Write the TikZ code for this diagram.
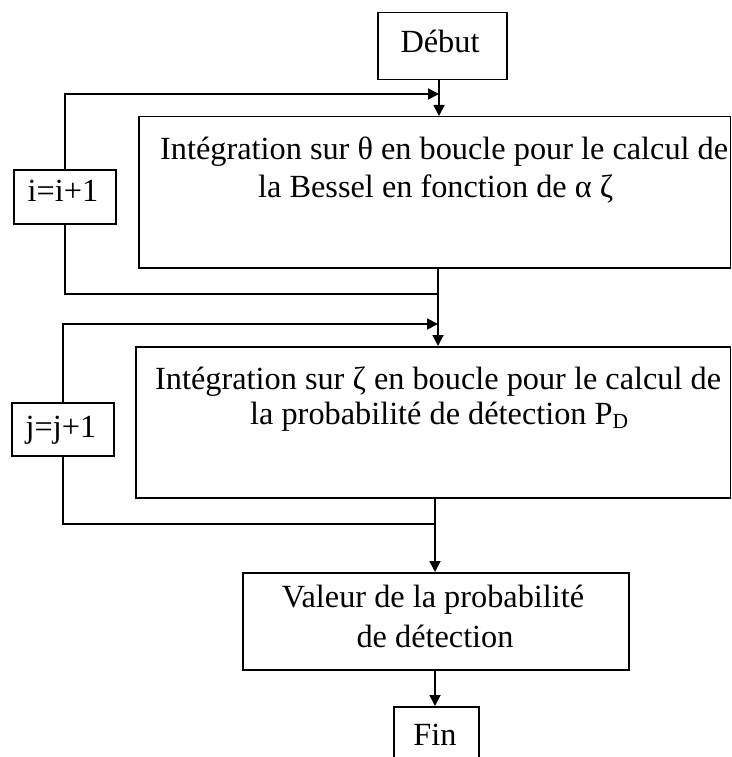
\documentclass[tikz,border=0pt]{standalone}
\usepackage{fontspec}
\setmainfont{Liberation Serif}
\usetikzlibrary{arrows.meta}
\begin{document}
\begin{tikzpicture}[x=1pt,y=-1pt,
  box/.style={draw, line width=1.5pt, inner sep=0pt, anchor=north west},
  txt/.style={inner sep=0pt, font=\fontsize{32.3}{38}\selectfont},
  wire/.style={line width=1.8pt},
  arr/.style={wire, -{Triangle[length=11pt,width=11pt]}}]
\clip (0,0) rectangle (731,757);

% boxes
\node[box, minimum width=129pt, minimum height=67pt] (debut) at (377,12) {};
\node[box, minimum width=591.5pt, minimum height=151pt] (b1) at (138,116) {};
\node[box, minimum width=594.5pt, minimum height=151pt] (b2) at (135,346) {};
\node[box, minimum width=386pt, minimum height=97pt] (b3) at (242,572) {};
\node[box, minimum width=85pt, minimum height=70pt] (fin) at (393,706) {};
\node[box, minimum width=102pt, minimum height=54pt] (inc1) at (13,169) {};
\node[box, minimum width=102pt, minimum height=53pt] (inc2) at (11,402) {};

% texts
\node[txt, anchor=base] (debut-t) at (440,53) {Début};
\node[txt, anchor=base west] (b1-l1) at (160,159) {Intégration sur θ en boucle pour le calcul de};
\node[txt, anchor=base west] (b1-l2) at (258,197) {la Bessel en fonction de α ζ};
\node[txt, anchor=base west] (b2-l1) at (155,389) {Intégration sur ζ en boucle pour le calcul de};
\node[txt, anchor=base west] (b2-l2) at (250,424) {la probabilité de détection P\raisebox{-4pt}{\fontsize{21.5}{21.5}\selectfont D}};
\node[txt, anchor=base] (b3-l1) at (433,607) {Valeur de la probabilité};
\node[txt, anchor=base] (b3-l2) at (435,647) {de détection};
\node[txt, anchor=base] (fin-t) at (435,745) {Fin};
\node[txt, anchor=base] (inc1-t) at (63,201) {i=i+1};
\node[txt, anchor=base] (inc2-t) at (61,437) {j=j+1};

% junction points on the main line
\coordinate (m1) at (439,94);
\coordinate (r1) at (438,294);
\coordinate (m2) at (438,324);
\coordinate (r2) at (435,524);

% main flow
\draw[arr] (debut.south -| m1) -- (b1.north -| m1);
\draw[arr] (b1.south -| m2) -- (b2.north -| m2);
\draw[arr] (b2.south -| r2) -- (b3.north -| r2);
\draw[arr] (b3.south -| r2) -- (fin.north -| r2);

% loop on i
\draw[wire] (r1) -| (inc1.south);
\draw[arr] (inc1.north) |- (m1);

% loop on j
\draw[wire] (r2) -| (inc2.south);
\draw[arr] (inc2.north) |- (m2);
\end{tikzpicture}
\end{document}
